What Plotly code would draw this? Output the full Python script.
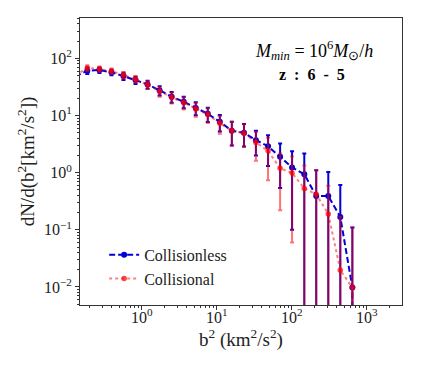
import numpy as np
import plotly.graph_objects as go

# b^2 bin positions (km^2/s^2); first and last lie outside the visible range
b2 = [0.130, 0.188, 0.273, 0.395, 0.571, 0.826, 1.197, 1.733, 2.506, 3.63, 5.25,
      7.60, 11.0, 15.9, 23.1, 33.3, 48.3, 70.0, 101, 147, 212, 307, 444, 643, 930]

collisionless = [48, 61, 62.5, 57, 49, 41.7, 35, 27.5, 21.3, 17.4, 13.6, 10.7,
                 7.76, 5.4, 4.98, 3.7, 2.91, 1.89, 1.23, 0.94, 0.39, 0.39, 0.168, 0.0098, 0]
collisionless_err = [5, 8, 7, 6.5, 7, 6, 5.5, 5, 4.5, 4, 3.5, 3,
                     2.5, 2.4, 2.1, 1.7, 1.6, 1.35, 1.13, 1.23, 0.71, 0.64, 0.44, 0.1, 0]

collisional = [50, 68, 65, 60, 51, 43, 34.5, 26.4, 20.8, 16.8, 13, 10.4,
               7.3, 5.4, 4.9, 3.38, 2.41, 1.19, 0.99, 0.53, 0.42, 0.19, 0.0196, 0.0098, 0]
collisional_err = [6, 8, 7, 6.5, 7, 6, 5.5, 5, 4.5, 4, 3.5, 3,
                   2.5, 2.4, 2.1, 1.77, 1.67, 0.97, 0.93, 0.8, 0.68, 0.4, 0.15, 0.1, 0]

xtick_vals = [1, 10, 100, 1000]
xtick_text = ["10<sup>0</sup>", "10<sup>1</sup>", "10<sup>2</sup>", "10<sup>3</sup>"]
ytick_vals = [0.01, 0.1, 1, 10, 100]
ytick_text = ["10<sup>\u22122</sup>", "10<sup>\u22121</sup>", "10<sup>0</sup>",
              "10<sup>1</sup>", "10<sup>2</sup>"]


def clip_nonpos(v):
    # mimic a log axis clipping non-positive values far below the view
    return [y if y > 0 else 1e-300 for y in v]


minor_vals = [m * 10.0 ** e for e in range(-3, 5) for m in range(2, 10)]

BLUE = "rgb(0,0,215)"
RED_L = "rgba(255,0,0,0.5)"
RED_M = "rgba(255,0,0,0.72)"
FONT = "Liberation Serif, Times New Roman, serif"

fig = go.Figure()
fig.add_trace(go.Scatter(
    x=b2, y=clip_nonpos(collisionless), name="Collisionless",
    mode="lines+markers",
    line=dict(color=BLUE, width=2, dash="6px,3px"),
    marker=dict(color=BLUE, size=6, symbol="circle"),
    error_y=dict(type="data", array=collisionless_err, color=BLUE,
                 thickness=2, width=2),
))
fig.add_trace(go.Scatter(
    x=b2, y=clip_nonpos(collisional), name="Collisional",
    mode="lines+markers",
    line=dict(color=RED_L, width=2, dash="dot"),
    marker=dict(color=RED_M, size=5.5, symbol="circle"),
    error_y=dict(type="data", array=collisional_err, color="rgba(255,0,0,0.55)",
                 thickness=2, width=2),
))

fig.add_annotation(x=0.726, y=0.888, xref="paper", yref="paper", showarrow=False,
                   xanchor="center", yanchor="middle",
                   text="<i>M</i><sub><i>min</i></sub> = 10<sup>6</sup><i>M</i><sub>\u2299</sub>/<i>h</i>",
                   font=dict(family=FONT, size=18, color="black"))
fig.add_annotation(x=0.72, y=0.802, xref="paper", yref="paper", showarrow=False,
                   xanchor="center", yanchor="middle",
                   text="<b>z  :  6  -  5</b>",
                   font=dict(family=FONT, size=16, color="black"))

axis_common = dict(showgrid=False, zeroline=False, showline=True, mirror=True,
                   linecolor="#333", linewidth=1, ticks="outside", ticklen=4,
                   tickcolor="#333", tickfont=dict(family=FONT, size=16, color="#222"))

fig.update_xaxes(type="log", range=[-0.823, 3.47], tickmode="array",
                 tickvals=xtick_vals, ticktext=xtick_text, ticklabelstandoff=-6,
                 minor=dict(tickmode="array", tickvals=minor_vals, ticks="outside",
                            ticklen=2, tickcolor="#333", showgrid=False),
                 title=dict(text="b<sup>2</sup> (km<sup>2</sup>/s<sup>2</sup>)",
                            font=dict(family=FONT, size=19, color="#222"), standoff=0),
                 **axis_common)
fig.update_yaxes(type="log", range=[-2.315, 2.706], tickmode="array",
                 tickvals=ytick_vals, ticktext=ytick_text,
                 minor=dict(tickmode="array", tickvals=minor_vals, ticks="outside",
                            ticklen=2, tickcolor="#333", showgrid=False),
                 title=dict(text="dN/d(b<sup>2</sup>[km<sup>2</sup>/s<sup>2</sup>])",
                            font=dict(family=FONT, size=19, color="#222"), standoff=4),
                 **axis_common)

fig.update_layout(
    width=421, height=369,
    margin=dict(l=80, r=19, t=18, b=64),
    plot_bgcolor="white", paper_bgcolor="white",
    showlegend=True,
    legend=dict(x=0.075, y=0.133, xanchor="left", yanchor="middle",
                bgcolor="rgba(0,0,0,0)", font=dict(family=FONT, size=16, color="#222"),
                itemwidth=30, tracegroupgap=2),
)

fig.write_html("out.html", config={"displayModeBar": False},
               post_script="document.body.style.margin='0';")
